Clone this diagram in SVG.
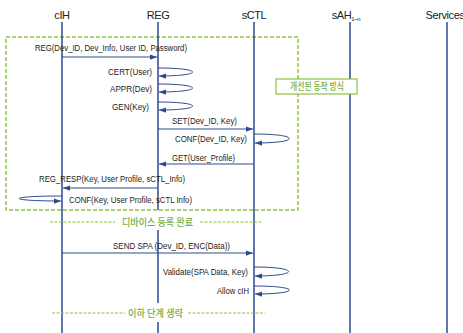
<svg xmlns="http://www.w3.org/2000/svg" width="463" height="333" viewBox="0 0 463 333">
<defs>
<marker id="ah" viewBox="0 0 8 6" refX="8" refY="3" markerWidth="7" markerHeight="5.5" orient="auto" markerUnits="userSpaceOnUse">
<path d="M0,0 L8,3 L0,6 Z" fill="#2e4a8c"/>
</marker>
<style>
.hd{font-family:"Liberation Sans",Arial,sans-serif;font-size:11px;fill:#222;text-anchor:middle;letter-spacing:-0.4px}
.life{stroke:#2e4a8c;stroke-width:1.5;fill:none}
.msg{stroke:#2e4a8c;stroke-width:1;fill:none;marker-end:url(#ah)}
.t{font-family:"Liberation Sans",Arial,sans-serif;font-size:8.5px;fill:#222}
.kr{font-family:"Noto Sans CJK KR","Noto Sans",sans-serif;font-size:10px;font-weight:500;fill:#72b043}
.gd{stroke:#8cc43f;stroke-width:1;stroke-dasharray:3,1.5;fill:none}
</style>
</defs>

<rect x="6" y="37" width="292" height="173" fill="none" stroke="#8cc43f" stroke-width="1.5" stroke-dasharray="4,2"/>

<g id="cIH">
<text class="hd" x="62" y="19">cIH</text>
<line class="life" x1="62" y1="22" x2="62" y2="333"/>
</g>
<g id="REG">
<text class="hd" x="158" y="19">REG</text>
<line class="life" x1="158" y1="22" x2="158" y2="210"/>
<line class="life" x1="158" y1="230" x2="158" y2="303"/>
<line class="life" x1="158" y1="322" x2="158" y2="333"/>
</g>
<g id="sCTL">
<text class="hd" x="254" y="19">sCTL</text>
<line class="life" x1="254" y1="22" x2="254" y2="333"/>
</g>
<g id="sAH">
<text class="hd" x="346" y="19">sAH<tspan font-size="6" dy="2">1~n</tspan></text>
<line class="life" x1="350" y1="22" x2="350" y2="333"/>
</g>
<g id="Services">
<text class="hd" x="445" y="19">Services</text>
<line class="life" x1="447" y1="22" x2="447" y2="333"/>
</g>

<g id="note">
<rect x="276" y="79" width="81" height="15" fill="#fff" stroke="#8cc43f" stroke-width="1.2"/>
<text class="kr" x="290" y="90" textLength="54" lengthAdjust="spacingAndGlyphs">개선된 동작 방식</text>
</g>

<g id="connectors">
<path class="msg" d="M62,57 H157"/>
<path class="msg" d="M158,68 C204,68 204,76 159,76"/>
<path class="msg" d="M158,84 C204,84 204,92 159,92"/>
<path class="msg" d="M158,102 C204,102 204,110 159,110"/>
<path class="msg" d="M158,129 H253"/>
<path class="msg" d="M254,134 C301,134 301,143 255,143"/>
<path class="msg" d="M254,164 H159"/>
<path class="msg" d="M158,188 H63"/>
<path class="msg" d="M62,196 C5,196 5,201 61,201"/>
<path class="msg" d="M62,253 H253"/>
<path class="msg" d="M254,267 C300,267 300,276 255,276"/>
<path class="msg" d="M254,286 C301,286 301,294 255,294"/>
<path class="gd" d="M50,222 H115 M200,222 H263"/>
<path class="gd" d="M52,313 H125 M188,313 H265"/>
</g>

<g id="labels">
<text class="t" x="35" y="51" textLength="152" lengthAdjust="spacingAndGlyphs">REG(Dev_ID, Dev_Info, User ID, Password)</text>
<text class="t" x="108" y="75" textLength="44" lengthAdjust="spacingAndGlyphs">CERT(User)</text>
<text class="t" x="110" y="92" textLength="42" lengthAdjust="spacingAndGlyphs">APPR(Dev)</text>
<text class="t" x="112" y="110" textLength="37" lengthAdjust="spacingAndGlyphs">GEN(Key)</text>
<text class="t" x="172" y="124" textLength="65" lengthAdjust="spacingAndGlyphs">SET(Dev_ID, Key)</text>
<text class="t" x="175" y="142" textLength="72" lengthAdjust="spacingAndGlyphs">CONF(Dev_ID, Key)</text>
<text class="t" x="172" y="161" textLength="63" lengthAdjust="spacingAndGlyphs">GET(User_Profile)</text>
<text class="t" x="39" y="182" textLength="146" lengthAdjust="spacingAndGlyphs">REG_RESP(Key, User Profile, sCTL_Info)</text>
<text class="t" x="69" y="203" textLength="123" lengthAdjust="spacingAndGlyphs">CONF(Key, User Profile, sCTL Info)</text>
<text class="kr" x="122" y="226" textLength="71" lengthAdjust="spacingAndGlyphs">디바이스 등록 완료</text>
<text class="t" x="113" y="249" textLength="117" lengthAdjust="spacingAndGlyphs">SEND SPA (Dev_ID, ENC(Data))</text>
<text class="t" x="163" y="275" textLength="85" lengthAdjust="spacingAndGlyphs">Validate(SPA Data, Key)</text>
<text class="t" x="217" y="294" textLength="32" lengthAdjust="spacingAndGlyphs">Allow cIH</text>
<text class="kr" x="128" y="317" textLength="55" lengthAdjust="spacingAndGlyphs">이하 단계 생략</text>
</g>
</svg>
